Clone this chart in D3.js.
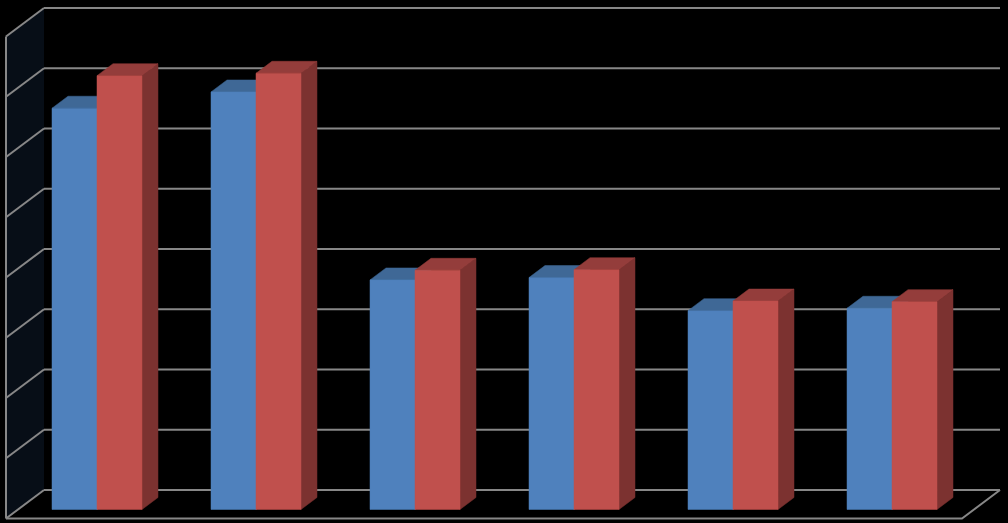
<!DOCTYPE html>
<html>
<head>
<meta charset="utf-8">
<script src="https://cdn.jsdelivr.net/npm/d3@7"></script>
<style>
  html, body { margin: 0; padding: 0; background: #000; }
  svg { display: block; }
</style>
</head>
<body>
<svg id="chart" width="1008" height="523"></svg>
<script>
// chart values (no labels shown in the original)
const categories = ["A", "B", "C", "D", "E", "F"];
const seriesNames = ["Series 1", "Series 2"];
const series1 = [66.6, 69.3, 38.1, 38.5, 33.0, 33.4];
const series2 = [72.0, 72.4, 39.7, 39.8, 34.6, 34.5];
const ticks = [0, 10, 20, 30, 40, 50, 60, 70, 80];

const colors = [
  { front: "#4f81bd", top: "#3f6896", side: "#345780" },
  { front: "#c0504d", top: "#943d3b", side: "#7c3230" }
];

const svg = d3.select("#chart");

// front plane of the box, depth goes up-right
const depthX = 38, depthY = -28.5;
const left = 6, right = 962;
let p = function(x, y, z) { return [x + depthX * z, y + depthY * z]; };

const x = d3.scaleBand().domain(categories).range([left, 959])
  .paddingInner(0.434).paddingOuter(0.2138);
const xs = d3.scaleBand().domain(seriesNames).range([0, x.bandwidth()]);
const y = d3.scaleLinear().domain([0, 80]).range([518.5, 36.5]);

const line = d3.line();
const gridColor = "#878787";

// left wall
svg.append("path")
  .attr("d", line([p(left, y(80), 0), p(left, y(80), 1), p(left, y(0), 1), p(left, y(0), 0)]) + "Z")
  .attr("fill", "#070e17");

// back wall gridlines + left wall diagonals
const grid = svg.append("g").attr("stroke", gridColor).attr("stroke-width", 2).attr("fill", "none");
grid.selectAll("line.back")
  .data(ticks)
  .join("line")
    .attr("x1", p(left, 0, 1)[0])
    .attr("x2", p(right, 0, 1)[0])
    .attr("y1", d => p(0, y(d), 1)[1])
    .attr("y2", d => p(0, y(d), 1)[1]);
grid.selectAll("path.side")
  .data(ticks)
  .join("path")
    .attr("d", d => line([p(left, y(d), 0), p(left, y(d), 1)]));
// left front edge and floor
grid.append("path").attr("d", line([p(left, y(80), 0), p(left, y(0), 0)]));
grid.append("path").attr("d", line([p(left, y(0), 0), p(right, y(0), 0), p(right, y(0), 1)]));

// bars
const z0 = 0.316, z1 = 0.737;
const data = categories.map((c, i) => [
  { c: c, s: seriesNames[0], v: series1[i], k: 0 },
  { c: c, s: seriesNames[1], v: series2[i], k: 1 }
]).flat();

const bars = svg.append("g").selectAll("g")
  .data(data)
  .join("g");

bars.each(function(d) {
  const g = d3.select(this);
  const xl = x(d.c) + xs(d.s), xr = xl + xs.bandwidth();
  const yb = y(0), yt = y(d.v);
  const col = colors[d.k];
  g.append("path")
    .attr("d", line([p(xr, yt, z0), p(xr, yt, z1), p(xr, yb, z1), p(xr, yb, z0)]) + "Z")
    .attr("fill", col.side).attr("stroke", col.side).attr("stroke-width", 0.5);
  g.append("path")
    .attr("d", line([p(xl, yt, z0), p(xl, yt, z1), p(xr, yt, z1), p(xr, yt, z0)]) + "Z")
    .attr("fill", col.top).attr("stroke", col.top).attr("stroke-width", 0.5);
  g.append("path")
    .attr("d", line([p(xl, yt, z0), p(xr, yt, z0), p(xr, yb, z0), p(xl, yb, z0)]) + "Z")
    .attr("fill", col.front).attr("stroke", col.front).attr("stroke-width", 0.5);
});
</script>
</body>
</html>
